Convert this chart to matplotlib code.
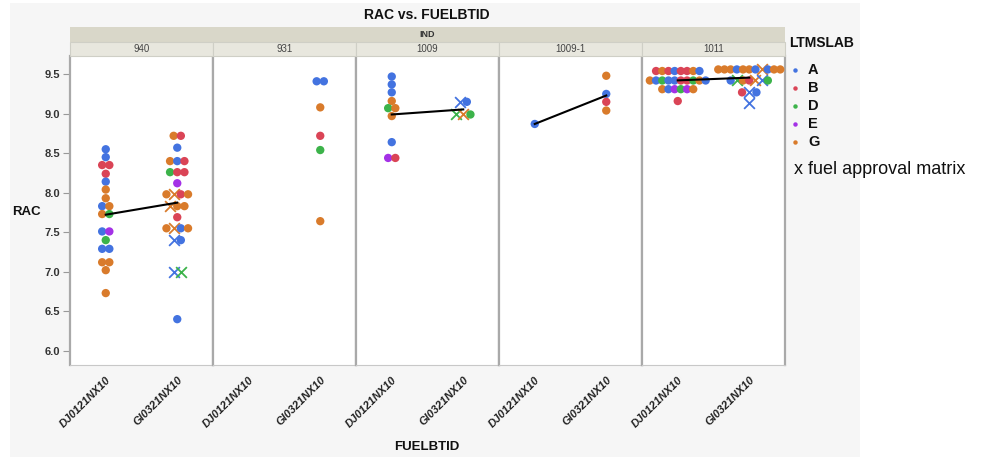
import matplotlib.pyplot as plt
import matplotlib.patches as mpatches
from matplotlib.lines import Line2D
import numpy as np

plt.rcParams['font.family'] = ['Liberation Sans', 'DejaVu Sans']

panels = ["940", "931", "1009", "1009-1", "1011"]
fuels = ["DJ0121NX10", "GI0321NX10"]
labs = ["A", "B", "D", "E", "G"]
lab_colors = ["#4373e0", "#da4456", "#3cb34a", "#a431e6", "#d97b2b"]

# RAC per fuel within each IND panel; lab letter per point,
# lower case = run on the fuel approval matrix (drawn as x)
rac_940_dj = [8.55, 8.45, 8.35, 8.35, 8.24, 8.14, 8.04, 7.93, 7.83, 7.83, 7.73,
              7.73, 7.51, 7.51, 7.40, 7.29, 7.29, 7.12, 7.12, 7.02, 6.73]
lab_940_dj = "AABBBAGGAGGDAEDAAGGGG"
rac_940_gi = [8.72, 8.72, 8.57, 8.40, 8.40, 8.40, 8.26, 8.26, 8.26, 8.12, 7.98,
              7.98, 7.98, 7.98, 7.83, 7.83, 7.83, 7.69, 7.55, 7.55, 7.55, 7.55,
              7.40, 7.40, 7.00, 7.00, 6.40]
lab_940_gi = "GBAGABDBBEGgBGgGGBGgAGaAadA"

rac_931_dj = []
lab_931_dj = ""
rac_931_gi = [9.41, 9.41, 9.08, 8.72, 8.54, 7.64]
lab_931_gi = "AAGBDG"

rac_1009_dj = [9.47, 9.37, 9.27, 9.16, 9.07, 9.07, 8.97, 8.64, 8.44, 8.44]
lab_1009_dj = "AAAGDGGAEB"
rac_1009_gi = [9.15, 9.15, 8.99, 8.99, 8.99]
lab_1009_gi = "aAdgD"

rac_10091_dj = [8.87]
lab_10091_dj = "A"
rac_10091_gi = [9.48, 9.25, 9.15, 9.04]
lab_10091_gi = "GABG"

rac_1011_dj = [9.54, 9.54, 9.54, 9.54, 9.54, 9.54, 9.54, 9.54,
               9.42, 9.42, 9.42, 9.42, 9.42, 9.42, 9.42, 9.42, 9.42, 9.42,
               9.31, 9.31, 9.31, 9.31, 9.31, 9.31, 9.16]
lab_1011_dj = "BGBABBGA" + "GADAABBDGA" + "GAEDEG" + "B"
rac_1011_gi = [9.56, 9.56, 9.56, 9.56, 9.56, 9.56, 9.56, 9.56, 9.56, 9.56, 9.56,
               9.42, 9.42, 9.42, 9.42, 9.42, 9.42, 9.42,
               9.27, 9.27, 9.27, 9.13]
lab_1011_gi = "GGGAGGAgAGG" + "AdGBgaD" + "BaA" + "a"

groups = [
    [(rac_940_dj, lab_940_dj), (rac_940_gi, lab_940_gi)],
    [(rac_931_dj, lab_931_dj), (rac_931_gi, lab_931_gi)],
    [(rac_1009_dj, lab_1009_dj), (rac_1009_gi, lab_1009_gi)],
    [(rac_10091_dj, lab_10091_dj), (rac_10091_gi, lab_10091_gi)],
    [(rac_1011_dj, lab_1011_dj), (rac_1011_gi, lab_1011_gi)],
]

W, H = 984, 457
fig = plt.figure(figsize=(W / 100, H / 100), dpi=100)
fig.patch.set_facecolor("white")


def fx(px):
    return px / W


def fy(py):
    return 1 - py / H


# grey report background
fig.patches.append(mpatches.Rectangle((fx(10), 0), fx(850), fy(3), transform=fig.transFigure,
                                      facecolor="#f6f6f6", edgecolor="none", zorder=-5))

left, right, top, bottom = 70, 785, 56, 365
pw = (right - left) / len(panels)
px_per_unit = pw / 2.0

# header bands
fig.patches.append(mpatches.Rectangle((fx(left), fy(42)), fx(right - left), fy(27) - fy(42),
                                      transform=fig.transFigure, facecolor="#d9d7c9",
                                      edgecolor="none"))
fig.text(fx((left + right) / 2), fy(34.5), "IND", ha="center", va="center",
         fontsize=6.5, fontweight="bold", color="#333333")

grey = "#a9a9a9"
for i, name in enumerate(panels):
    x0 = left + i * pw
    fig.patches.append(mpatches.Rectangle((fx(x0), fy(top)), fx(pw), fy(42) - fy(top),
                                          transform=fig.transFigure, facecolor="#e8e7de",
                                          edgecolor="#cfcfc6", lw=0.8))
    fig.text(fx(x0 + pw / 2), fy(49), name, ha="center", va="center",
             fontsize=7, color="#444444")

    ax = fig.add_axes([fx(x0), fy(bottom), fx(pw), fy(top) - fy(bottom)])
    ax.set_facecolor("white")
    ax.set_xlim(-0.5, 1.5)
    ax.set_ylim(5.82, 9.73)
    for s in ["left", "right"]:
        ax.spines[s].set_color(grey)
        ax.spines[s].set_linewidth(1.6)
    ax.spines["top"].set_visible(False)
    ax.spines["bottom"].set_color("#c8c8c8")
    ax.set_xticks([0, 1])
    ax.set_xticklabels(fuels, rotation=45, ha="right", rotation_mode="anchor",
                       fontsize=8, fontweight="bold", fontstyle="italic", color="#222222")
    ax.tick_params(axis="x", length=0, pad=7)
    ax.set_yticks([6.0, 6.5, 7.0, 7.5, 8.0, 8.5, 9.0, 9.5])
    if i == 0:
        ax.set_yticklabels([f"{v:.1f}" for v in ax.get_yticks()], fontsize=8,
                           fontweight="bold", color="#333333")
        ax.tick_params(axis="y", length=5, color="#999999", width=0.8, pad=2)
    else:
        ax.tick_params(axis="y", left=False, labelleft=False)

    means = []
    for k, (rac, lab) in enumerate(groups[i]):
        if len(rac) == 0:
            means.append(None)
            continue
        rac = np.array(rac)
        means.append(rac.mean())
        # spread equal values side by side around the category
        offs = np.zeros(len(rac))
        for v in np.unique(rac):
            idx = np.where(rac == v)[0]
            n = len(idx)
            step = (7.2 if n <= 4 else 6.2) / px_per_unit
            offs[idx] = (np.arange(n) - (n - 1) / 2) * step
        for j, code in enumerate(lab):
            c = lab_colors[labs.index(code.upper())]
            if code.islower():
                ax.scatter(k + offs[j], rac[j], marker="x", s=60, color=c,
                           linewidths=1.3, zorder=3)
            else:
                ax.scatter(k + offs[j], rac[j], marker="o", s=36, color=c,
                           edgecolors="none", zorder=3)
    if means[0] is not None and means[1] is not None:
        ax.plot([0, 1], means, color="black", lw=1.5, zorder=4)

fig.text(fx(427), fy(15), "RAC vs. FUELBTID", ha="center", va="center",
         fontsize=10, fontweight="bold", color="#111111")
fig.text(fx(427), fy(447), "FUELBTID", ha="center", va="center",
         fontsize=9.5, fontweight="bold", color="#111111")
fig.text(fx(26), fy(212), "RAC", ha="center", va="center",
         fontsize=9.5, fontweight="bold", color="#111111")

# legend
fig.text(fx(789), fy(43), "LTMSLAB", ha="left", va="center",
         fontsize=10, fontweight="bold", color="#111111")
for j, (name, c) in enumerate(zip(labs, lab_colors)):
    yy = fy(70 + j * 18)
    fig.add_artist(Line2D([fx(795)], [yy], marker="o", ms=3.2, color=c,
                          markeredgewidth=0, transform=fig.transFigure))
    fig.text(fx(808), yy, name, ha="left", va="center", fontsize=10.5,
             fontweight="bold", color="#111111")
fig.text(fx(794), fy(170), "x fuel approval matrix", ha="left", va="center",
         fontsize=13, color="#111111")

fig.savefig("out.png", dpi=100)
